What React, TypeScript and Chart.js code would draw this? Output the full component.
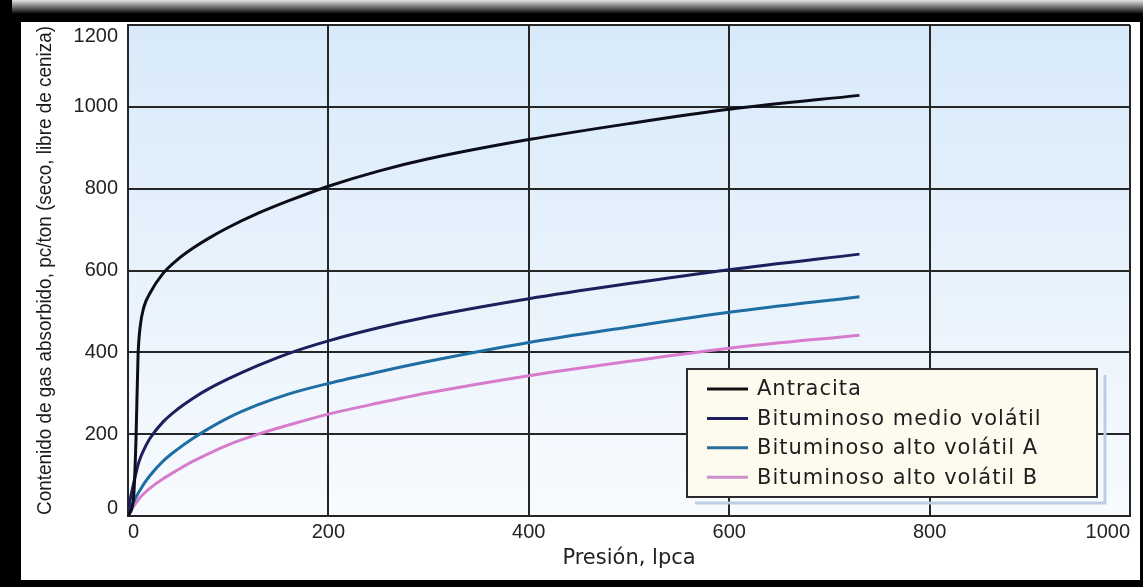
import React, { useEffect, useRef } from 'react';
import { Chart, registerables } from 'chart.js';

Chart.register(...registerables);

// Pressure (lpca) sampling points shared by all curves
const pressure = [0, 2, 4, 6, 8, 10, 12, 16, 22, 35, 50, 65, 80, 100, 130, 160, 200, 250, 300, 400, 500, 600, 730];

// Adsorbed gas content, pc/ton
const antracita = [0, 8, 20, 60, 190, 390, 460, 512, 545, 593, 628, 655, 678, 705, 740, 770, 806, 843, 873, 920, 959, 994, 1028];
const medioVolatil = [0, 38, 62, 84, 105, 125, 140, 163, 190, 230, 262, 288, 310, 335, 368, 397, 428, 460, 487, 531, 568, 602, 640];
const altoVolatilA = [0, 14, 26, 36, 46, 55, 63, 79, 99, 134, 164, 190, 213, 240, 272, 298, 324, 352, 378, 424, 462, 498, 536];
const altoVolatilB = [0, 10, 18, 25, 32, 39, 45, 55, 68, 91, 113, 134, 152, 174, 200, 222, 249, 276, 301, 343, 378, 410, 442];

const seriesNames = ['Antracita', 'Bituminoso medio volátil', 'Bituminoso alto volátil A', 'Bituminoso alto volátil B'];
const seriesColors = ['#0d0d1a', '#1b1f5c', '#1f6ea3', '#d77ccd'];
const legendColors = ['#111111', '#1b1f5c', '#2a6c9c', '#cc8fcc'];

const xTickValues = [0, 200, 400, 600, 800, 1000];
const yTickValues = [0, 200, 400, 600, 800, 1000, 1200];

const yTitle = 'Contenido de gas absorbido, pc/ton (seco, libre de ceniza)';
const xTitle = 'Presión, lpca';

const GRID = '#262626';
const TICK_FONT = '20px "Liberation Sans", Arial, sans-serif';

const framePlugin = {
  id: 'frame',
  beforeDraw(chart: any) {
    const { ctx, width, height, chartArea } = chart;
    ctx.save();
    ctx.fillStyle = '#000';
    ctx.fillRect(0, 0, width, height);
    const g = ctx.createLinearGradient(0, 0, 0, 14);
    g.addColorStop(0, '#e4e4e4');
    g.addColorStop(1, '#000');
    ctx.fillStyle = g;
    ctx.fillRect(12, 0, width - 12, 14);
    ctx.fillStyle = '#ffffff';
    ctx.fillRect(21, 22, 1119, 558);
    const bg = ctx.createLinearGradient(0, chartArea.top, 0, chartArea.bottom);
    bg.addColorStop(0, '#d8eafa');
    bg.addColorStop(0.55, '#e9f3fc');
    bg.addColorStop(1, '#f8fbfe');
    ctx.fillStyle = bg;
    ctx.fillRect(chartArea.left, chartArea.top, chartArea.right - chartArea.left, chartArea.bottom - chartArea.top);
    ctx.restore();
  },
};

const extrasPlugin = {
  id: 'extras',
  afterDraw(chart: any) {
    const { ctx, chartArea } = chart;
    const ys = chart.scales.y;
    ctx.save();
    // edge tick labels of the y axis (kept inside the plot height)
    ctx.font = TICK_FONT;
    ctx.fillStyle = '#222';
    ctx.textAlign = 'right';
    ctx.textBaseline = 'bottom';
    ctx.fillText(String(yTickValues[0]), ys.right - 10, ys.getPixelForValue(yTickValues[0]) + 2);
    ctx.textBaseline = 'top';
    ctx.fillText(String(yTickValues[yTickValues.length - 1]), ys.right - 10, ys.getPixelForValue(yTickValues[yTickValues.length - 1]) + 1);

    // condensed y-axis title
    ctx.save();
    ctx.font = '21px "Liberation Sans", Arial, sans-serif';
    const tw = ctx.measureText(yTitle).width;
    const target = chartArea.bottom - chartArea.top - 2;
    ctx.translate(45, (chartArea.top + chartArea.bottom) / 2);
    ctx.rotate(-Math.PI / 2);
    ctx.scale(target / tw, 1);
    ctx.textAlign = 'center';
    ctx.textBaseline = 'middle';
    ctx.fillStyle = '#1a1a1a';
    ctx.fillText(yTitle, 0, 0);
    ctx.restore();

    // legend box
    const bx = 687, by = 369, bw = 410, bh = 128;
    ctx.strokeStyle = '#bccde4';
    ctx.lineWidth = 3;
    ctx.beginPath();
    ctx.moveTo(bx + 8, by + bh + 6);
    ctx.lineTo(bx + bw + 8, by + bh + 6);
    ctx.lineTo(bx + bw + 8, by + 6);
    ctx.stroke();
    ctx.fillStyle = '#fdfbee';
    ctx.fillRect(bx, by, bw, bh);
    ctx.strokeStyle = '#2b2b2b';
    ctx.lineWidth = 2;
    ctx.strokeRect(bx, by, bw, bh);
    ctx.font = '21px "DejaVu Sans", sans-serif';
    (ctx as any).letterSpacing = '1px';
    ctx.textAlign = 'left';
    ctx.textBaseline = 'middle';
    seriesNames.forEach((name, i) => {
      const y = by + 20 + i * 29.4;
      ctx.strokeStyle = legendColors[i];
      ctx.lineWidth = 3;
      ctx.beginPath();
      ctx.moveTo(bx + 20, y);
      ctx.lineTo(bx + 61, y);
      ctx.stroke();
      ctx.fillStyle = '#1e1e1e';
      ctx.fillText(name, bx + 70, y + 1);
    });
    ctx.restore();
  },
};

export default function App() {
  const ref = useRef<HTMLCanvasElement | null>(null);

  useEffect(() => {
    if (!ref.current) return;
    const series = [antracita, medioVolatil, altoVolatilA, altoVolatilB];
    const chart = new Chart(ref.current, {
      type: 'line',
      data: {
        datasets: series.map((vals, i) => ({
          label: seriesNames[i],
          data: pressure.map((p, j) => ({ x: p, y: vals[j] })),
          borderColor: seriesColors[i],
          borderWidth: 3,
          pointRadius: 0,
          fill: false,
          cubicInterpolationMode: 'monotone' as const,
        })),
      },
      options: {
        animation: false,
        responsive: false,
        devicePixelRatio: 1,
        layout: { padding: { left: 20, right: 13, top: 25, bottom: 7 }, autoPadding: false },
        plugins: {
          legend: { display: false },
          tooltip: { enabled: false },
        },
        scales: {
          x: {
            type: 'linear',
            min: 0,
            max: 1000,
            afterBuildTicks: (s: any) => {
              s.ticks = xTickValues.map((v) => ({ value: v }));
            },
            afterFit: (s: any) => {
              s.height = 64;
            },
            grid: { color: GRID, lineWidth: 2, drawTicks: false },
            border: { color: GRID, width: 2 },
            ticks: {
              align: 'inner',
              padding: 4,
              color: '#222',
              font: { family: '"Liberation Sans", Arial, sans-serif', size: 20 },
              maxRotation: 0,
              callback: (v: any) => String(v),
            },
            title: {
              display: true,
              text: xTitle,
              color: '#222',
              font: { family: '"DejaVu Sans", sans-serif', size: 21 },
              padding: { top: 0, bottom: 9 },
            },
          },
          y: {
            type: 'linear',
            min: 0,
            max: 1200,
            afterBuildTicks: (s: any) => {
              s.ticks = yTickValues.map((v) => ({ value: v }));
            },
            afterFit: (s: any) => {
              s.width = 108;
            },
            grid: { color: GRID, lineWidth: 2, drawTicks: false },
            border: { color: GRID, width: 2 },
            ticks: {
              padding: 10,
              color: '#222',
              font: { family: '"Liberation Sans", Arial, sans-serif', size: 20 },
              callback: (v: any) =>
                v === yTickValues[0] || v === yTickValues[yTickValues.length - 1] ? '' : String(v),
            },
            title: { display: false },
          },
        },
      } as any,
      plugins: [framePlugin, extrasPlugin],
    });
    return () => chart.destroy();
  }, []);

  return (
    <div style={{ position: 'fixed', left: 0, top: 0, width: 1143, height: 587 }}>
      <canvas ref={ref} width={1143} height={587} style={{ display: 'block', width: 1143, height: 587 }} />
    </div>
  );
}
